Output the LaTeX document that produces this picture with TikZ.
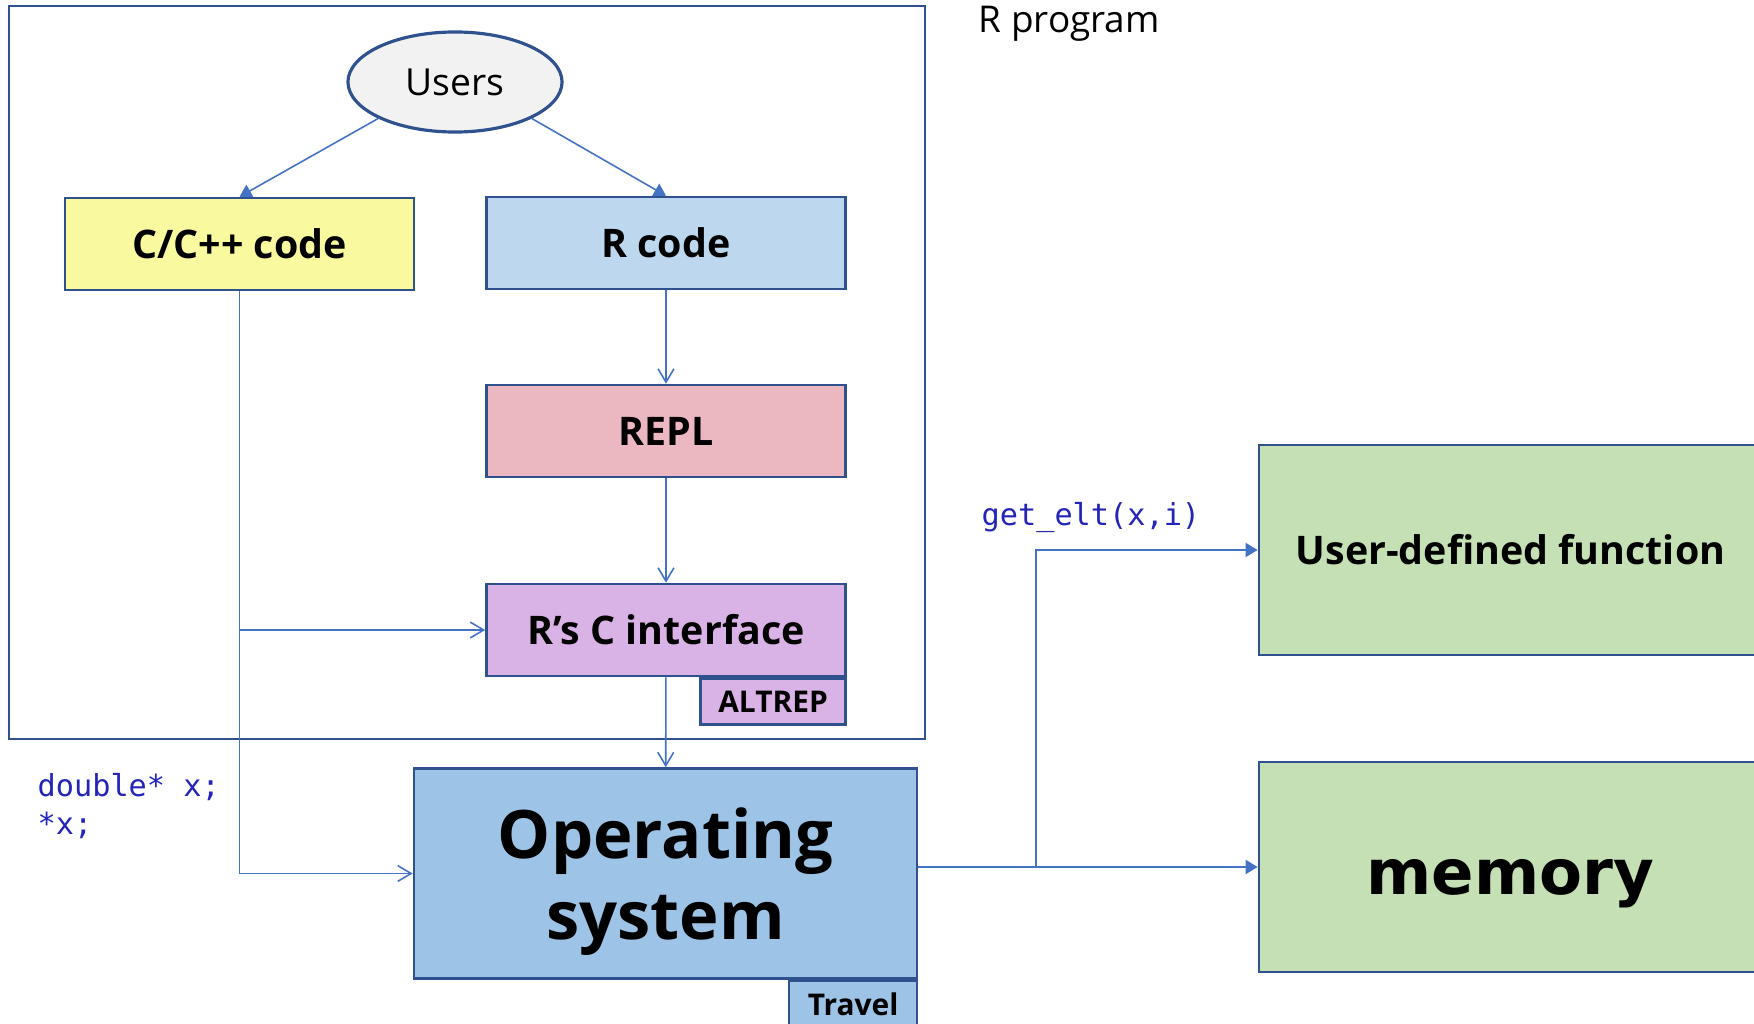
\documentclass[tikz,border=0pt]{standalone}
\usepackage{fontspec}
\setmainfont{Open Sans}[BoldFont={Open Sans Bold}]
\newfontfamily\codefont{DejaVu Sans Mono}
\newfontfamily\widefont{DejaVu Sans}
\usetikzlibrary{arrows.meta,positioning,shapes.geometric}

\definecolor{edgeblue}{HTML}{2F528F}
\definecolor{arrowblue}{HTML}{4472C4}
\definecolor{cyellow}{HTML}{F9F99F}
\definecolor{rblue}{HTML}{BDD7EE}
\definecolor{replpink}{HTML}{EBB8C2}
\definecolor{ifacepurple}{HTML}{DAB3E6}
\definecolor{osblue}{HTML}{9DC3E6}
\definecolor{memgreen}{HTML}{C5E0B4}
\definecolor{usergray}{HTML}{F2F2F2}
\definecolor{codeblue}{HTML}{2424B8}

\tikzset{
  block/.style={draw=edgeblue, line width=0.7pt, inner sep=0pt,
    minimum width=3.55cm, minimum height=0.92cm,
    font=\fontsize{11.2}{13}\selectfont\bfseries},
  bigblock/.style={block, minimum width=5.03cm, minimum height=2.1cm},
  tagbox/.style={draw=edgeblue, line width=0.7pt, inner sep=0pt,
    minimum height=0.46cm, font=\fontsize{8.5}{10}\selectfont\bfseries},
  codetext/.style={text=codeblue, inner sep=0pt, align=left,
    font=\codefont\fontsize{8.6}{10.6}\selectfont},
  link/.style={arrowblue, line width=0.45pt},
  flow/.style={link, -{Straight Barb[length=3.8pt,width=4.5pt]}},
  push/.style={link, -{Triangle[length=3.4pt,width=4pt]}}
}

\begin{document}
\begin{tikzpicture}[x=0.01cm, y=-0.01cm]
    \useasboundingbox (0,0) rectangle (1754,1024);

    % R program frame
    \draw[edgeblue, line width=0.7pt] (9,6) rectangle (925,739);
    \node[anchor=base west, inner sep=0pt, font=\fontsize{10.5}{12}\selectfont]
        (rprog) at (978,32) {R program};

    % Nodes inside the frame
    \node[ellipse, draw=edgeblue, fill=usergray, line width=0.9pt,
          minimum width=2.14cm, minimum height=1.0cm,
          font=\fontsize{10.6}{13}\selectfont] (users) at (455,82) {Users};
    \node[block, fill=cyellow, minimum width=3.49cm] (cpp) at (239.5,244) {C/C++ code};
    \node[block, fill=rblue, minimum width=3.59cm] (rcode) at (666,243) {R code};
    \node[block, fill=replpink, minimum width=3.59cm] (repl) at (666,431) {REPL};
    \node[block, fill=ifacepurple, minimum width=3.59cm] (iface) at (666,630) {R's C interface};
    \node[tagbox, fill=ifacepurple, minimum width=1.45cm, anchor=north east]
        (altrep) at (iface.south east) {ALTREP};

    % Lower nodes
    \node[bigblock, fill=osblue, align=center, text depth=0pt,
          font=\fontsize{19}{23}\selectfont\bfseries] (os) at (665.5,873.5) {Operating\\system};
    \node[tagbox, fill=osblue, minimum width=1.28cm, anchor=north east]
        (travel) at (os.south east) {Travel};
    \node[bigblock, fill=memgreen] (udf) at (1510.5,550) {User-defined function};
    \node[bigblock, fill=memgreen, text height=15.6pt, text depth=0pt,
          font=\widefont\fontsize{17.8}{20}\selectfont\bfseries]
        (mem) at (1510.5,867) {memory};

    % Code snippets
    \node[codetext, anchor=west] (deref) at (37,806) {double* x;\\*x;};
    \node[codetext, anchor=west] (getelt) at (981,517) {get\_elt(x,i)};

    % Connectors
    \draw[push] (users.south west) -- (cpp.north);
    \draw[push] (users.south east) -- (rcode.north);
    \draw[flow] (rcode) -- (repl);
    \draw[flow] (repl) -- (iface);
    \draw[flow] (iface) -- (os);
    \draw[flow] (cpp.south) |- (os.west);
    \draw[flow] (cpp.south |- iface.west) -- (iface.west);
    \coordinate (fork) at (1036,867);
    \draw[push] (os.east |- mem.west) -- (mem.west);
    \draw[push] (fork) |- (udf.west);
\end{tikzpicture}
\end{document}
